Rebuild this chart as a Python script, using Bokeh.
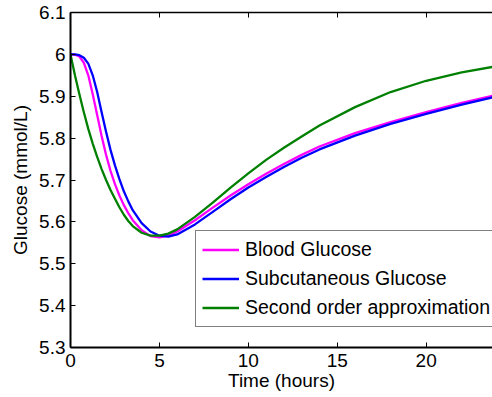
from bokeh.plotting import figure
from bokeh.models import LinearAxis, FixedTicker, Legend, LegendItem, Range1d
from bokeh.embed import file_html
from bokeh.resources import INLINE

# ---- data ----
t_hours = [0, 0.25, 0.5, 0.75, 1.0, 1.25, 1.5, 1.75, 2.0, 2.25, 2.5, 2.75, 3.0,
           3.25, 3.5, 4.0, 4.5, 5.0, 5.5, 6.0, 7.0, 8.0, 9.0, 10.0, 11.0, 12.0,
           13.0, 14.0, 16.0, 18.0, 20.0, 22.0, 24.0]
blood_glucose = [6.000, 5.999, 5.995, 5.980, 5.950, 5.905, 5.855, 5.805, 5.760,
                 5.722, 5.690, 5.663, 5.640, 5.621, 5.604, 5.580, 5.566, 5.563,
                 5.567, 5.577, 5.604, 5.634, 5.663, 5.690, 5.715, 5.738, 5.760,
                 5.780, 5.812, 5.838, 5.862, 5.884, 5.904]
subcutaneous_glucose = [6.000, 6.000, 5.998, 5.992, 5.978, 5.950, 5.910, 5.862,
                        5.815, 5.772, 5.735, 5.702, 5.673, 5.649, 5.628, 5.597,
                        5.577, 5.567, 5.565, 5.570, 5.594, 5.624, 5.654, 5.682,
                        5.707, 5.731, 5.753, 5.773, 5.806, 5.834, 5.858, 5.880,
                        5.900]
second_order = [6.000, 5.950, 5.905, 5.862, 5.822, 5.787, 5.755, 5.726, 5.700,
                5.676, 5.655, 5.635, 5.617, 5.602, 5.590, 5.574, 5.567, 5.567,
                5.572, 5.582, 5.612, 5.646, 5.682, 5.716, 5.748, 5.777, 5.804,
                5.830, 5.874, 5.910, 5.937, 5.957, 5.972]

series_names = ["Blood Glucose", "Subcutaneous Glucose", "Second order approximation"]
series_colors = ["#ff00ff", "#0000ff", "#008000"]

x_ticks = [0, 5, 10, 15, 20]
y_ticks = [5.3, 5.4, 5.5, 5.6, 5.7, 5.8, 5.9, 6.0, 6.1]
y_tick_labels = ["5.3", "5.4", "5.5", "5.6", "5.7", "5.8", "5.9", "6", "6.1"]

FONT = "Liberation Sans"

p = figure(width=492, height=397, output_backend="svg", toolbar_location=None,
           x_range=Range1d(0, 23.73), y_range=Range1d(5.3, 6.1),
           min_border_left=70, min_border_right=0, min_border_top=12,
           min_border_bottom=50)
p.outline_line_color = None
p.background_fill_color = "white"
p.border_fill_color = "white"
p.grid.visible = False

renderers = []
for ys, c in zip([blood_glucose, subcutaneous_glucose, second_order], series_colors):
    r = p.line(t_hours, ys, line_color=c, line_width=2.3, line_join="round")
    renderers.append(r)

# axes styling
for ax in [p.xaxis[0], p.yaxis[0]]:
    ax.axis_line_color = "black"
    ax.axis_line_width = 2
    ax.major_tick_in = 5
    ax.major_tick_out = 0
    ax.major_tick_line_color = "black"
    ax.minor_tick_line_color = None
    ax.major_label_text_font = FONT
    ax.major_label_text_font_size = "19px"
    ax.major_label_text_color = "black"
    ax.axis_label_text_font = FONT
    ax.axis_label_text_font_size = "19px"
    ax.axis_label_text_font_style = "normal"
    ax.axis_label_text_color = "black"

p.xaxis[0].ticker = FixedTicker(ticks=x_ticks)
p.xaxis[0].major_label_standoff = 6
p.xaxis[0].axis_label = "Time (hours)"
p.xaxis[0].axis_label_standoff = 0

p.yaxis[0].ticker = FixedTicker(ticks=y_ticks)
p.yaxis[0].major_label_overrides = dict(zip(y_ticks, y_tick_labels))
p.yaxis[0].major_label_standoff = 5
p.yaxis[0].axis_label = "Glucose (mmol/L)"
p.yaxis[0].axis_label_standoff = 5

top = LinearAxis(ticker=FixedTicker(ticks=x_ticks), axis_line_color="black",
                 axis_line_width=1.5, major_tick_in=5, major_tick_out=0,
                 minor_tick_line_color=None, major_label_text_color=None,
                 major_label_text_font_size="8px", major_label_standoff=0)
p.add_layout(top, "above")

legend = Legend(items=[LegendItem(label=n, renderers=[r]) for n, r in zip(series_names, renderers)],
                location=(125, 20), orientation="vertical",
                label_text_font=FONT, label_text_font_size="19.5px",
                label_text_color="black",
                glyph_width=37, glyph_height=25, label_height=25,
                label_standoff=6, spacing=4, padding=6, margin=0,
                border_line_color="black", border_line_width=1.5,
                background_fill_color="white", background_fill_alpha=1.0)
p.add_layout(legend, "center")

open("out.html", "w").write(file_html(p, INLINE))
